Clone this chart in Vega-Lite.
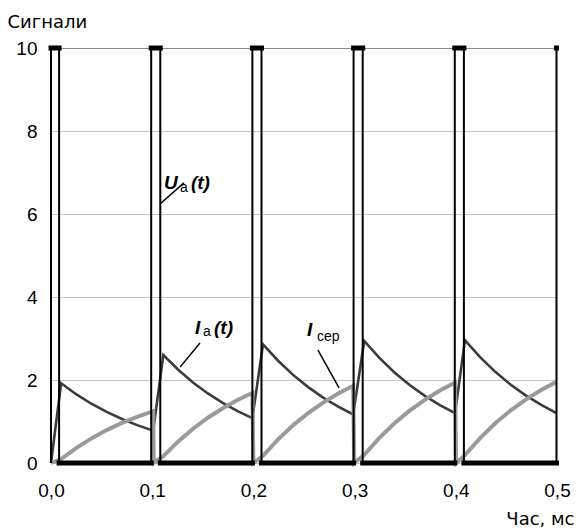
{
  "$schema": "https://vega.github.io/schema/vega-lite/v6.json",
  "width": 506,
  "height": 415,
  "autosize": {"type": "none"},
  "padding": {"left": 51, "top": 48, "right": 21, "bottom": 66},
  "background": "white",
  "config": {
    "view": {"stroke": null},
    "font": "Liberation Sans",
    "axis": {"labelFont": "Liberation Sans", "titleFont": "DejaVu Sans", "labelColor": "#000", "titleColor": "#000"}
  },
  "datasets": {
    "ua": [
      {"t": 0, "v": 0, "o": 0}, {"t": 0, "v": 10, "o": 1}, {"t": 0.008, "v": 10, "o": 2}, {"t": 0.008, "v": 0, "o": 3},
      {"t": 0.099, "v": 0, "o": 4}, {"t": 0.099, "v": 10, "o": 5}, {"t": 0.108, "v": 10, "o": 6}, {"t": 0.108, "v": 0, "o": 7},
      {"t": 0.199, "v": 0, "o": 8}, {"t": 0.199, "v": 10, "o": 9}, {"t": 0.208, "v": 10, "o": 10}, {"t": 0.208, "v": 0, "o": 11},
      {"t": 0.299, "v": 0, "o": 12}, {"t": 0.299, "v": 10, "o": 13}, {"t": 0.308, "v": 10, "o": 14}, {"t": 0.308, "v": 0, "o": 15},
      {"t": 0.399, "v": 0, "o": 16}, {"t": 0.399, "v": 10, "o": 17}, {"t": 0.408, "v": 10, "o": 18}, {"t": 0.408, "v": 0, "o": 19},
      {"t": 0.4995, "v": 0, "o": 20}, {"t": 0.4995, "v": 10, "o": 21}
    ],
    "bars": [
      {"t": 0.0, "t2": 0.008, "v": 10}, {"t": 0.099, "t2": 0.108, "v": 10}, {"t": 0.199, "t2": 0.208, "v": 10},
      {"t": 0.299, "t2": 0.308, "v": 10}, {"t": 0.399, "t2": 0.408, "v": 10}, {"t": 0.4995, "t2": 0.4995, "v": 10},
      {"t": 0.008, "t2": 0.099, "v": 0}, {"t": 0.108, "t2": 0.199, "v": 0}, {"t": 0.208, "t2": 0.299, "v": 0},
      {"t": 0.308, "t2": 0.399, "v": 0}, {"t": 0.408, "t2": 0.4995, "v": 0}
    ],
    "ia": [
      {"t": 0, "v": 0}, {"t": 0.010, "v": 1.92}, {"t": 0.0252, "v": 1.652}, {"t": 0.0403, "v": 1.422}, {"t": 0.0555, "v": 1.224}, {"t": 0.0707, "v": 1.053}, {"t": 0.0858, "v": 0.906}, {"t": 0.101, "v": 0.78},
      {"t": 0.111, "v": 2.60}, {"t": 0.1257, "v": 2.246}, {"t": 0.1403, "v": 1.940}, {"t": 0.155, "v": 1.676}, {"t": 0.1697, "v": 1.448}, {"t": 0.1843, "v": 1.251}, {"t": 0.199, "v": 1.08},
      {"t": 0.2095, "v": 2.86}, {"t": 0.2244, "v": 2.464}, {"t": 0.2392, "v": 2.123}, {"t": 0.2541, "v": 1.829}, {"t": 0.2689, "v": 1.576}, {"t": 0.2838, "v": 1.358}, {"t": 0.2986, "v": 1.17},
      {"t": 0.3095, "v": 2.94}, {"t": 0.3245, "v": 2.532}, {"t": 0.3394, "v": 2.181}, {"t": 0.3544, "v": 1.878}, {"t": 0.3694, "v": 1.618}, {"t": 0.3843, "v": 1.394}, {"t": 0.3993, "v": 1.20},
      {"t": 0.409, "v": 2.96}, {"t": 0.424, "v": 2.550}, {"t": 0.439, "v": 2.197}, {"t": 0.454, "v": 1.893}, {"t": 0.469, "v": 1.631}, {"t": 0.484, "v": 1.405}, {"t": 0.499, "v": 1.21}
    ],
    "icp": [
      {"t": 0, "v": 0}, {"t": 0.010, "v": 0.096}, {"t": 0.0252, "v": 0.366}, {"t": 0.0403, "v": 0.599}, {"t": 0.0555, "v": 0.799}, {"t": 0.0707, "v": 0.972}, {"t": 0.0858, "v": 1.120}, {"t": 0.101, "v": 1.248},
      {"t": 0.1015, "v": 0}, {"t": 0.111, "v": 0.165}, {"t": 0.1257, "v": 0.520}, {"t": 0.1403, "v": 0.826}, {"t": 0.155, "v": 1.091}, {"t": 0.1697, "v": 1.319}, {"t": 0.1843, "v": 1.517}, {"t": 0.199, "v": 1.687},
      {"t": 0.2, "v": 0}, {"t": 0.2095, "v": 0.175}, {"t": 0.2244, "v": 0.570}, {"t": 0.2392, "v": 0.910}, {"t": 0.2541, "v": 1.203}, {"t": 0.2689, "v": 1.455}, {"t": 0.2838, "v": 1.673}, {"t": 0.2986, "v": 1.860},
      {"t": 0.2996, "v": 0}, {"t": 0.3095, "v": 0.197}, {"t": 0.3245, "v": 0.606}, {"t": 0.3394, "v": 0.958}, {"t": 0.3544, "v": 1.261}, {"t": 0.3694, "v": 1.522}, {"t": 0.3843, "v": 1.747}, {"t": 0.3993, "v": 1.941},
      {"t": 0.4003, "v": 0}, {"t": 0.409, "v": 0.189}, {"t": 0.424, "v": 0.601}, {"t": 0.439, "v": 0.957}, {"t": 0.454, "v": 1.263}, {"t": 0.469, "v": 1.526}, {"t": 0.484, "v": 1.753}, {"t": 0.499, "v": 1.949}
    ],
    "pointers": [
      {"t": 0.1077, "v": 6.24, "t2": 0.1314, "v2": 6.75},
      {"t": 0.1275, "v": 2.31, "t2": 0.1472, "v2": 2.89},
      {"t": 0.2638, "v": 2.72, "t2": 0.2846, "v2": 1.81}
    ],
    "bigtext": [
      {"t": 0.1117, "v": 6.60, "txt": "U"},
      {"t": 0.1383, "v": 6.60, "txt": "(t)"},
      {"t": 0.1423, "v": 3.11, "txt": "I"},
      {"t": 0.1611, "v": 3.11, "txt": "(t)"},
      {"t": 0.2530, "v": 3.06, "txt": "I"}
    ],
    "smalltext": [
      {"t": 0.1275, "v": 6.53, "txt": "a"},
      {"t": 0.1502, "v": 3.06, "txt": "a"},
      {"t": 0.2628, "v": 2.94, "txt": "сер"}
    ]
  },
  "encoding": {
    "x": {
      "field": "t", "type": "quantitative",
      "scale": {"domain": [0, 0.5], "nice": false, "zero": false},
      "axis": {
        "values": [0, 0.1, 0.2, 0.3, 0.4, 0.5],
        "labelExpr": "replace(format(datum.value, '.1f'), '.', ',')",
        "domain": false, "ticks": false, "tickSize": 0, "grid": false,
        "labelFontSize": 19, "labelPadding": 18, "labelFlush": false,
        "title": "Час, мс", "titleFontSize": 18, "titleFontWeight": "normal",
        "titleAlign": "right", "titleBaseline": "alphabetic", "titleX": 523, "titleY": 61
      }
    },
    "y": {
      "field": "v", "type": "quantitative",
      "scale": {"domain": [0, 10], "nice": false},
      "axis": {
        "values": [0, 2, 4, 6, 8, 10],
        "domain": false, "ticks": false, "tickSize": 0, "grid": true,
        "gridColor": {"condition": {"test": "datum.value === 10", "value": "#8c8c8c"}, "value": "#c4c4c4"},
        "gridWidth": 1.2,
        "labelFontSize": 19, "labelPadding": 14, "labelFlush": false,
        "title": "Сигнали", "titleFontSize": 18, "titleFontWeight": "normal", "titleAngle": 0,
        "titleAlign": "left", "titleBaseline": "alphabetic", "titleX": -44, "titleY": -21
      }
    }
  },
  "layer": [
    {
      "data": {"name": "ia"},
      "mark": {"type": "line", "color": "#3c3c3c", "strokeWidth": 2.6, "clip": false}
    },
    {
      "data": {"name": "icp"},
      "mark": {"type": "line", "color": "#9a9a9a", "strokeWidth": 4, "clip": false}
    },
    {
      "data": {"name": "ua"},
      "mark": {"type": "line", "color": "#000", "strokeWidth": 2, "clip": false},
      "encoding": {"order": {"field": "o", "type": "quantitative"}}
    },
    {
      "data": {"name": "bars"},
      "mark": {"type": "rule", "color": "#000", "strokeWidth": 5, "strokeCap": "square"},
      "encoding": {"x2": {"field": "t2"}}
    },
    {
      "data": {"name": "pointers"},
      "mark": {"type": "rule", "color": "#000", "strokeWidth": 1.5},
      "encoding": {"x2": {"field": "t2"}, "y2": {"field": "v2"}}
    },
    {
      "data": {"name": "bigtext"},
      "mark": {"type": "text", "align": "left", "baseline": "alphabetic", "font": "Liberation Sans", "fontSize": 19, "fontWeight": "bold", "fontStyle": "italic", "color": "#000"},
      "encoding": {"text": {"field": "txt"}}
    },
    {
      "data": {"name": "smalltext"},
      "mark": {"type": "text", "align": "left", "baseline": "alphabetic", "font": "Liberation Sans", "fontSize": 14, "color": "#000"},
      "encoding": {"text": {"field": "txt"}}
    }
  ]
}
